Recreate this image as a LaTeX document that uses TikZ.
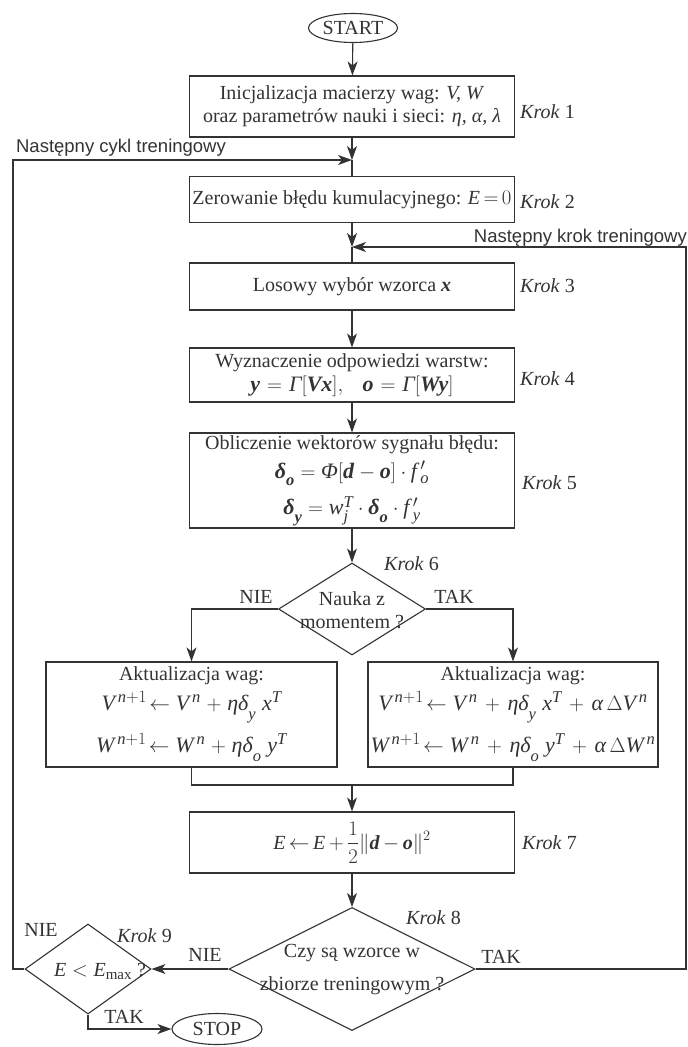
\documentclass[tikz,border=0pt]{standalone}
\usepackage{amsmath}
\usepackage{fontspec}
\setmainfont{Liberation Serif}
\setsansfont{Liberation Sans}
\usetikzlibrary{arrows.meta,shapes.geometric}
\definecolor{ink}{HTML}{333333}
% italic and bold-italic symbols taken from the text face
\newcommand{\vi}[1]{\textit{#1}}
\newcommand{\vb}[1]{\textbf{\textit{#1}}}
% subscript set low, as in the printed formulas
\newcommand{\dsub}[1]{_{\raisebox{-4pt}{$\scriptstyle #1$}}}
% larger face for formula lines, with roomy scripts
\DeclareMathSizes{22}{22}{16.5}{12}
\DeclareMathSizes{20}{20}{15}{11}
\newcommand{\fml}{\fontsize{22}{26}\selectfont}

\begin{document}
\begin{tikzpicture}[x=1pt,y=-1pt,
  every node/.style={inner sep=0pt, text=ink},
  main/.style={font=\fontsize{20}{23}\selectfont},
  line/.style={draw=ink, line width=1.1pt},
  arr/.style={line, -{Stealth[length=14pt,width=10pt,inset=4pt]}},
  stepbox/.style={draw=ink, line width=1.1pt, main, align=center, minimum width=325pt},
  updbox/.style={draw=ink, line width=1.1pt, main, align=center, minimum height=105pt},
  decision/.style={draw=ink, line width=1.1pt, diamond, inner sep=0pt},
  terminal/.style={draw=ink, line width=1.1pt, ellipse, inner sep=0pt, main},
  krok/.style={main, anchor=west},
  lab/.style={main},
  note/.style={font=\sffamily\fontsize{18.5}{21}\selectfont}
]
\useasboundingbox (0,0) rectangle (688,1047);

% terminals and processing steps
\node[terminal, minimum width=89pt, minimum height=29pt] (start) at (353,28) {START};

\node[stepbox, minimum height=61pt] (b1) at (352,106.5)
  {Inicjalizacja macierzy wag: \vi{V, W}\\ oraz parametrów nauki i sieci: \vi{η,\ α,\ λ}};
\node[krok] (k1) at (520,112) {\textit{Krok} 1};

\node[stepbox, minimum height=46pt] (b2) at (352,199.5)
  {Zerowanie błędu kumulacyjnego: $\vi{E}\mskip3mu{=}\mskip3mu 0$};
\node[krok] (k2) at (520,202) {\textit{Krok} 2};

\node[stepbox, minimum height=47pt] (b3) at (352,286.5)
  {Losowy wybór wzorca \vb{x}};
\node[krok] (k3) at (520,286) {\textit{Krok} 3};

\node[stepbox, minimum height=54pt] (b4) at (352,375)
  {Wyznaczenie odpowiedzi warstw:\\[1pt]
   {\fml $\thickmuskip=6mu \vb{y} = \vi{Γ}[\vb{Vx}],\hspace{16pt} \vb{o} = \vi{Γ}[\vb{Wy}]$}};
\node[krok] (k4) at (520,379) {\textit{Krok} 4};

\node[stepbox, minimum height=95pt] (b5) at (352,480.5)
  {Obliczenie wektorów sygnału błędu:\\[6pt]
   {\fml $\vb{δ}\dsub{\vb{o}} = \vi{Φ}[\vb{d}-\vb{o}]\cdot \vi{f}\,'_{\vi{o}}$}\\[10pt]
   {\fml $\vb{δ}\dsub{\vb{y}} = \vi{w}_{\vi{j}}^{\vi{T}}\cdot\vb{δ}\dsub{\vb{o}}\cdot \vi{f}\,'_{\vi{y}}$}};
\node[krok] (k5) at (522,483) {\textit{Krok} 5};

% momentum decision
\node[decision, minimum width=147pt, minimum height=92pt] (d6) at (352,609) {};
\node[main, align=center] (t6) at (352,610) {Nauka z\\ momentem ?};
\node[krok] (k6) at (384,564) {\textit{Krok} 6};
\node[lab] (nie6) at (256,597) {NIE};
\node[lab] (tak6) at (454,597) {TAK};

\node[updbox, minimum width=291pt] (bL) at (191.5,714.5)
  {Aktualizacja wag:\\[5pt]
   {\fml $\medmuskip=5mu \vi{V}^{\,\vi{n}+1}\!\leftarrow \vi{V}^{\,\vi{n}}+\vi{ηδ}\dsub{\vi{y}}\;\vi{x}^{\vi{T}}$}\\[9pt]
   {\fml $\medmuskip=5mu \vi{W}^{\,\vi{n}+1}\!\leftarrow \vi{W}^{\,\vi{n}}+\vi{ηδ}\dsub{\vi{o}}\;\vi{y}^{\vi{T}}$}};
\node[updbox, minimum width=290pt] (bR) at (513,714.5)
  {Aktualizacja wag:\\[5pt]
   {\fml $\medmuskip=6.5mu \vi{V}^{\,\vi{n}+1}\!\leftarrow \vi{V}^{\,\vi{n}}+\vi{ηδ}\dsub{\vi{y}}\;\vi{x}^{\vi{T}}+\vi{α}\,\Delta \vi{V}^{\,\vi{n}}$}\\[9pt]
   {\fml $\medmuskip=6.5mu \vi{W}^{\,\vi{n}+1}\!\leftarrow \vi{W}^{\,\vi{n}}+\vi{ηδ}\dsub{\vi{o}}\;\vi{y}^{\vi{T}}+\vi{α}\,\Delta \vi{W}^{\,\vi{n}}$}};

\node[stepbox, minimum height=61pt] (b7) at (352,842.5)
  {$\displaystyle \vi{E}\mskip3mu{\leftarrow}\mskip3mu\vi{E}\mskip3mu{+}\mskip3mu\frac{1}{2}\lVert\vb{d}\mskip3mu{-}\mskip3mu\vb{o}\rVert^{2}$};
\node[krok] (k7) at (522,843) {\textit{Krok} 7};

% pattern decision
\node[decision, minimum width=246pt, minimum height=123pt] (d8) at (352,969) {};
\node[main, align=center, font=\fontsize{20}{33}\selectfont] (t8) at (352,970) {Czy są wzorce w\\ zbiorze treningowym ?};
\node[krok] (k8) at (406,918) {\textit{Krok} 8};
\node[lab] (nie8) at (205,955) {NIE};
\node[lab] (tak8) at (501,957) {TAK};

% error threshold decision
\node[decision, minimum width=126pt, minimum height=90pt] (d9) at (88,969) {};
\node[main] (t9) at (100,971) {$\vi{E} < \vi{E}_{\textup{max}}$ ?};
\node[lab] (nie9) at (41,930) {NIE};
\node[krok] (k9) at (117,936) {\textit{Krok} 9};
\node[lab] (tak9) at (124,1017) {TAK};

\node[terminal, minimum width=90pt, minimum height=31pt] (stop) at (217,1029) {STOP};

% loop labels
\node[note] (ncykl) at (121,148) {Następny cykl treningowy};
\node[note, anchor=east] (nkrok) at (687,238) {Następny krok treningowy};

% junctions
\coordinate (j1) at (352,160);
\coordinate (j2) at (352,247);
\coordinate (lc) at (13,160);
\coordinate (rc) at (686,247);
\coordinate (m) at (352,785);

% connectors
\draw[arr] (start) -- (b1);
\draw[arr] (b1) -- (j1);
\draw[line] (j1) -- (b2);
\draw[arr] (b2) -- (j2);
\draw[line] (j2) -- (b3);
\draw[arr] (b3) -- (b4);
\draw[arr] (b4) -- (b5);
\draw[arr] (b5) -- (d6);
\draw[arr] (d6.west) -| (bL.north);
\draw[arr] (d6.east) -| (bR.north);
\draw[line] (bL.south) |- (m);
\draw[line] (bR.south) |- (m);
\draw[arr] (m) -- (b7);
\draw[arr] (b7) -- (d8);
\draw[arr] (d8.west) -- (d9.east);
\draw[arr] (d8.east) -| (rc) -- (j2);
\draw[arr] (d9.west) -| (lc) -- (j1);
\draw[arr] (d9.south) |- (stop.west);
\end{tikzpicture}
\end{document}
